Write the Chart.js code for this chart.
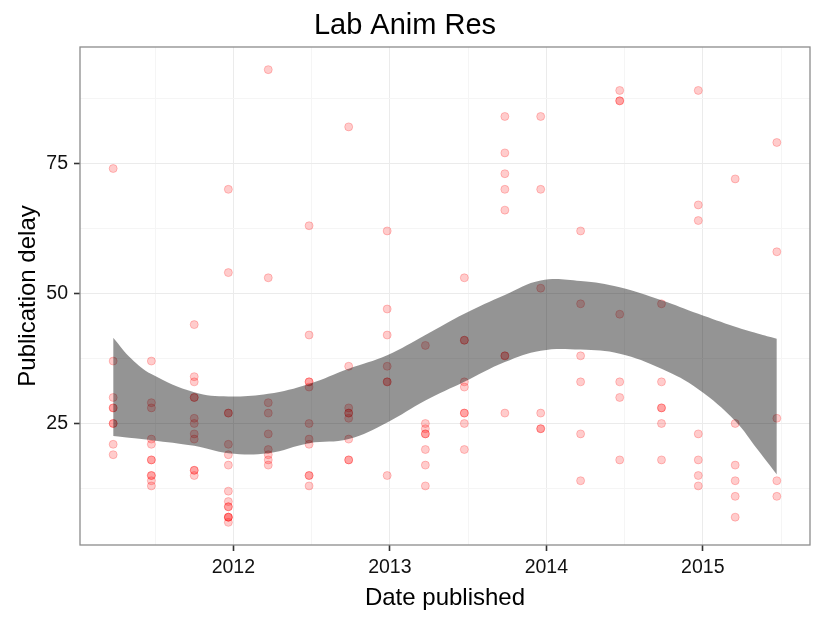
<!DOCTYPE html>
<html>
<head>
<meta charset="utf-8">
<script src="https://cdn.jsdelivr.net/npm/chart.js@4.4.1/dist/chart.umd.min.js"></script>
<style>
html,body{margin:0;padding:0;background:#fff;}
#wrap{width:825px;height:618px;position:relative;}
</style>
</head>
<body>
<div id="wrap"><canvas id="grafico"></canvas></div>
<script>
// datas das edições (ano decimal) e atrasos de publicação de cada artigo
const issueDates=[2011.232,2011.476,2011.750,2011.968,2012.223,2012.484,2012.737,2012.983,2013.227,
  2013.476,2013.735,2013.964,2014.219,2014.469,2014.736,2014.971,2015.207,2015.473];
const delaysByIssue=[
  [74,37,30,28,28,25,25,21,19],
  [37,29,28,22,21,18,18,15,15,14,13],
  [44,34,33,30,30,26,25,23,22,16,16,15],
  [70,54,27,27,21,19,17,12,10,9,9,7,7,7,6],
  [93,53,29,27,23,20,19,18,17],
  [63,42,33,33,32,25,22,21,15,15,13],
  [82,36,28,27,27,26,22,18,18],
  [62,47,42,36,33,33,15],
  [40,25,24,23,23,20,17,13],
  [53,41,41,33,32,27,27,25,20],
  [84,77,73,70,66,38,38,27],
  [84,70,51,27,24,24],
  [62,48,38,33,23,14],
  [89,87,87,46,33,30,18],
  [48,33,28,28,25,18],
  [89,67,64,23,18,15,13],
  [72,25,17,14,11,7],
  [79,58,26,14,11]
];
// faixa de confiança da curva suavizada
const bandDates=[2011.232,2011.35,2011.476,2011.75,2011.968,2012.223,2012.484,2012.737,2012.983,2013.227,
  2013.476,2013.735,2013.964,2014.219,2014.469,2014.736,2014.971,2015.207,2015.35,2015.473];
const bandUpper=[41.5,37.4,34.5,31,30.2,30.7,32.6,35.5,38.1,42,46.1,49.7,52.5,52.4,51.2,48.7,46.1,43.6,42.3,41.3];
const bandLower=[22.6,22.2,21.8,20.7,19.3,19.3,21.2,22,25.2,29.4,33,36.8,39,39.2,38.4,35.5,31.6,25.5,20,15.2];
// marcas dos eixos (maiores com rótulo, menores só grade)
const xTicks=[2011.5,2012,2012.5,2013,2013.5,2014,2014.5,2015,2015.5];
const yTicks=[12.5,25,37.5,50,62.5,75,87.5];

const FONTE='"Liberation Sans", Arial, Helvetica, sans-serif';
const pontos=[];
issueDates.forEach((d,i)=>delaysByIssue[i].forEach(v=>pontos.push({x:d,y:v})));
const faixa=(arr)=>bandDates.map((d,i)=>({x:d,y:arr[i]}));
const ehMaior=v=>Number.isInteger(v);

// moldura cinza em volta do painel (theme_bw)
const moldura={id:'moldura',afterDraw(c){
  const a=c.chartArea,ctx=c.ctx;
  ctx.save();ctx.strokeStyle='#8c8c8c';ctx.lineWidth=1.3;
  ctx.strokeRect(a.left,a.top,a.right-a.left,a.bottom-a.top);
  ctx.restore();
}};

new Chart(document.getElementById('grafico'),{
  type:'scatter',
  data:{datasets:[
    {type:'line',data:faixa(bandLower),borderWidth:0,borderColor:'rgba(0,0,0,0)',pointRadius:0,tension:0.4,fill:false,order:0},
    {type:'line',data:faixa(bandUpper),borderWidth:0,borderColor:'rgba(0,0,0,0)',pointRadius:0,tension:0.4,
      fill:'-1',backgroundColor:'rgba(0,0,0,0.42)',order:0},
    {data:pontos,pointRadius:4,pointBackgroundColor:'rgba(255,0,0,0.2)',pointBorderColor:'rgba(255,0,0,0.22)',pointBorderWidth:1,order:1}
  ]},
  options:{
    responsive:true,maintainAspectRatio:false,animation:false,
    layout:{padding:{left:0,right:15,top:0,bottom:0}},
    plugins:{
      legend:{display:false},tooltip:{enabled:false},
      title:{display:true,text:'Lab Anim Res',color:'#000',font:{family:FONTE,size:29,weight:'normal'},padding:{top:9,bottom:3.2}}
    },
    scales:{
      x:{type:'linear',min:2011.02,max:2015.685,
        afterBuildTicks(s){s.ticks=xTicks.map(v=>({value:v}));},
        afterFit(s){s.height=73;},
        border:{display:false},
        grid:{color:c=>ehMaior(c.tick.value)?'#ebebeb':'#f5f5f5',lineWidth:1,drawTicks:true,tickLength:6,
          tickColor:c=>ehMaior(c.tick.value)?'#333':'rgba(0,0,0,0)',tickWidth:1.6},
        ticks:{autoSkip:false,maxRotation:0,padding:5,color:'#111',font:{family:FONTE,size:19.5},
          callback:v=>ehMaior(v)?String(v):''},
        title:{display:true,text:'Date published',color:'#000',font:{family:FONTE,size:24},padding:{top:0,bottom:5}}
      },
      y:{type:'linear',min:1.65,max:97.35,
        afterBuildTicks(s){s.ticks=yTicks.map(v=>({value:v}));},
        afterFit(s){s.width=80;},
        border:{display:false},
        grid:{color:c=>ehMaior(c.tick.value)?'#ebebeb':'#f5f5f5',lineWidth:1,drawTicks:true,tickLength:6,
          tickColor:c=>ehMaior(c.tick.value)?'#333':'rgba(0,0,0,0)',tickWidth:1.6},
        ticks:{autoSkip:false,padding:6,color:'#111',font:{family:FONTE,size:19.5},
          callback:v=>ehMaior(v)?String(v):''},
        title:{display:true,text:'Publication delay',color:'#000',font:{family:FONTE,size:24},padding:{top:14,bottom:0}}
      }
    }
  },
  plugins:[moldura]
});
</script>
</body>
</html>
